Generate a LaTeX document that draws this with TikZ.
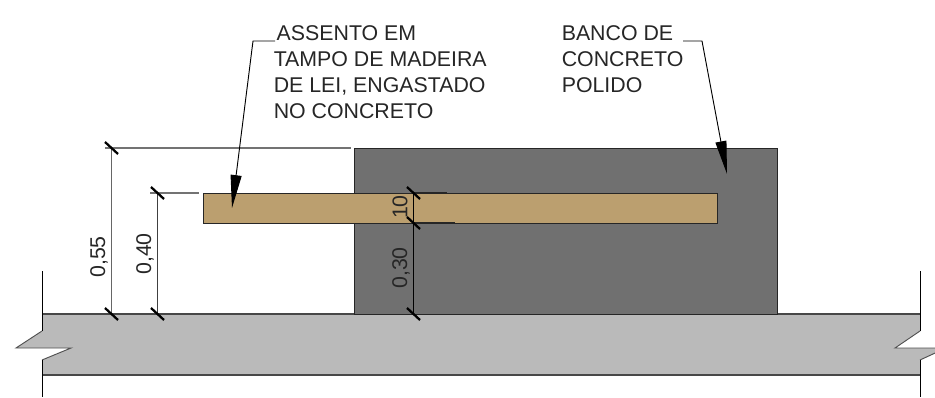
\documentclass[tikz,border=0pt]{standalone}
\usepackage{fontspec}
\setmainfont{Liberation Sans}
\usetikzlibrary{arrows.meta}
\definecolor{slab}{HTML}{BABABA}
\definecolor{bench}{HTML}{707070}
\definecolor{wood}{HTML}{BB9F6F}
\definecolor{ink}{HTML}{262626}
\tikzset{
  x=0.75pt,y=-0.75pt,
  outline/.style={draw=ink,line width=1pt},
  thinline/.style={draw=black,line width=0.7pt},
  extline/.style={draw=black!55,line width=0.8pt},
  dimline/.style={draw=black!75,line width=0.8pt},
  tick/.style={draw=black,line width=1.7pt},
  leader/.style={draw=black,line width=0.7pt,-{Triangle[length=24.75pt,width=8.25pt]}},
  label/.style={font=\fontsize{16}{19.6}\selectfont,align=left,anchor=north west,inner sep=0pt,text=ink},
  dimtext/.style={font=\fontsize{16}{18}\selectfont,rotate=90,inner sep=0pt,text=ink}
}
\begin{document}
\begin{tikzpicture}
\useasboundingbox (0,0) rectangle (935,397);
\clip (0,0) rectangle (935,397);
% slab
\path[fill=slab,draw=none] (42,314) -- (920,314) -- (920,331) -- (895,348) -- (946,348) -- (920,360) -- (920,375) -- (42,375) -- (42,360) -- (71,348) -- (16,348) -- (42,331) -- cycle;
\draw[outline,draw=ink!85] (42,314) -- (920,314);
\draw[outline,draw=ink!85] (42,375) -- (920,375);
\draw[thinline,draw=ink!80] (42,331) -- (16,348) -- (71,348) -- (42,360);
\draw[thinline,draw=ink!80] (920,331) -- (895,348) -- (946,348) -- (920,360);
\draw[thinline] (42,271) -- (42,331);
\draw[thinline] (42,360) -- (42,397);
\draw[thinline] (920,271) -- (920,331);
\draw[thinline] (920,360) -- (920,397);
% bench and seat
\node[outline,fill=bench,minimum width=317.25pt,minimum height=124.5pt,inner sep=0pt,anchor=north west] (banco) at (353.5,148) {};
\node[outline,fill=wood,minimum width=385.5pt,minimum height=22.5pt,inner sep=0pt,anchor=north west] (assento) at (202.5,193) {};
% dimension coordinates
\coordinate (a1) at (111.5,148); \coordinate (a2) at (111.5,314);
\coordinate (b1) at (157.5,193); \coordinate (b2) at (157.5,314);
\coordinate (c1) at (413.5,193); \coordinate (c2) at (413.5,223); \coordinate (c3) at (413.5,314);
\coordinate (e1) at (351,148); \coordinate (e2) at (199,193); \coordinate (e3) at (447,193); \coordinate (e4) at (455,223);
\draw[extline] (105,148) -- (e1);
\draw[extline] (150,193) -- (e2);
\draw[dimline,draw=black!60] (a1) -- (a2);
\draw[dimline] (b1) -- (b2);
\draw[draw=black,line width=0.8pt] (c1) -- (c3);
\draw[draw=ink,line width=0.8pt] (c1) -- (e3);
\draw[draw=ink,line width=0.8pt] (c2) -- (e4);
\foreach \p in {a1,a2,b1,b2,c1,c2,c3}{
  \draw[tick] ([shift={(-6.5,-6)}]\p) -- ([shift={(6.5,6)}]\p);
}
% dimension text
\node[dimtext] (t55) at (99,257) {0,55};
\node[dimtext] (t40) at (145,254) {0,40};
\node[dimtext] (t30) at (401,268) {0,30};
\node[dimtext] (t10) at (400,207) {10};
% labels
\node[label] (l1) at (273.5,25) {\hspace*{2.2pt}ASSENTO EM\\TAMPO DE MADEIRA\\DE LEI, ENGASTADO\\NO CONCRETO};
\node[label] (l2) at (561.5,25) {BANCO DE\\CONCRETO\\POLIDO};
% leaders
\coordinate (p1) at (275,41); \coordinate (p1b) at (253,41); \coordinate (tip1) at (232,208);
\coordinate (p2) at (683,41); \coordinate (p2b) at (702,41); \coordinate (tip2) at (727,174);
\draw[leader] (p1) -- (p1b) -- (tip1);
\draw[leader] (p2) -- (p2b) -- (tip2);
\end{tikzpicture}
\end{document}
